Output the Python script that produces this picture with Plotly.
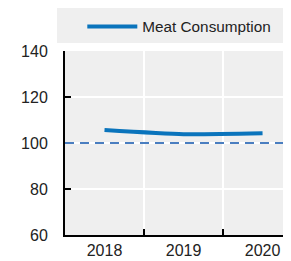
import plotly.graph_objects as go

years = ["2018", "2019", "2020"]
meat_consumption = [105.6, 103.8, 104.2]
reference_level = 100
series_name = "Meat Consumption"
y_ticks = [60, 80, 100, 120, 140]

FONT = "Liberation Sans, Arial, sans-serif"

fig = go.Figure()
fig.add_trace(go.Scatter(
    x=years, y=meat_consumption, mode="lines", name=series_name,
    line=dict(color="#0A74BC", width=4, shape="spline", smoothing=0.6),
))

fig.add_shape(type="line", xref="paper", yref="y", x0=0, x1=1,
              y0=reference_level, y1=reference_level,
              line=dict(color="#4A7EC0", width=2, dash="9px,6px"), layer="above")

# legend background
fig.add_shape(type="rect", xref="paper", yref="paper",
              x0=-0.0354, x1=1.0, y0=1.0435, y1=1.2337,
              fillcolor="#EFEFEF", line=dict(width=0), layer="below")

fig.update_layout(
    width=283, height=253,
    margin=dict(l=57, r=0, t=43, b=26, autoexpand=False),
    paper_bgcolor="white", plot_bgcolor="#EFEFEF",
    font=dict(family=FONT, size=16, color="#222222"),
    showlegend=True,
    legend=dict(x=0.0766, xanchor="left", y=1.133, yanchor="middle",
                bgcolor="rgba(0,0,0,0)", font=dict(size=15.3), itemwidth=50),
    xaxis=dict(type="category", range=[-0.5, 2.36], showline=True, linecolor="black", linewidth=2,
               ticks="inside", ticklen=6, tickcolor="black", tickwidth=2, tickson="boundaries",
               showgrid=True, gridcolor="white", gridwidth=2, zeroline=False),
    yaxis=dict(range=[60, 140], tickvals=y_ticks, showline=True, linecolor="black", linewidth=2,
               ticks="inside", ticklen=6, tickcolor="black", tickwidth=2,
               showgrid=True, gridcolor="white", gridwidth=2, zeroline=False,
               ticklabelstandoff=12),
)

fig.write_html("out.html")
